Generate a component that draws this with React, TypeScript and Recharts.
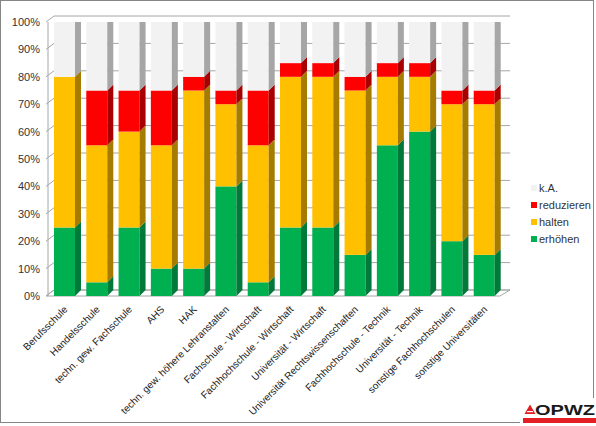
import React from "react"
import { BarChart, Bar, XAxis, YAxis, CartesianGrid } from "recharts"

// Schultypen (x-Achse)
const categories = [
  "Berufsschule",
  "Handelsschule",
  "techn. gew. Fachschule",
  "AHS",
  "HAK",
  "techn. gew. höhere Lehranstalten",
  "Fachschule - Wirtschaft",
  "Fachhochschule - Wirtschaft",
  "Universität - Wirtschaft",
  "Universität Rechtswissenschaften",
  "Fachhochschule - Technik",
  "Universität - Technik",
  "sonstige Fachhochschulen",
  "sonstige Universitäten",
]

// Anteile in %
const erhoehen   = [25, 5, 25, 10, 10, 40, 5, 25, 25, 15, 55, 60, 20, 15]
const halten     = [55, 50, 35, 45, 65, 30, 50, 55, 55, 60, 25, 20, 50, 55]
const reduzieren = [0, 20, 15, 20, 5, 5, 20, 5, 5, 5, 5, 5, 5, 5]
const keineAngabe = [20, 25, 25, 25, 20, 25, 25, 15, 15, 20, 15, 15, 25, 25]

const yTicks = [0, 10, 20, 30, 40, 50, 60, 70, 80, 90, 100]

const SERIES = [
  { key: "erhoehen",   label: "erhöhen",    front: "#00b050", side: "#00793a", top: "#009a45" },
  { key: "halten",     label: "halten",     front: "#ffc000", side: "#a67c00", top: "#d9a300" },
  { key: "reduzieren", label: "reduzieren", front: "#ff0000", side: "#a80000", top: "#d00000" },
  { key: "ka",         label: "k.A.",       front: "#f2f2f2", side: "#a6a6a6", top: "#d0d0d0" },
]

const data = categories.map((name, i) => ({
  name,
  erhoehen: erhoehen[i],
  halten: halten[i],
  reduzieren: reduzieren[i],
  ka: keineAngabe[i],
}))

const D = 6 // Tiefe der 3D-Darstellung
const GRID = "#a6a6a6"
const FONT = "'Liberation Sans', Arial, sans-serif"

function makeShape(s: (typeof SERIES)[number], isTop: boolean) {
  return (p: any) => {
    const { x, y, width, height } = p
    if (!height || height <= 0) return <g />
    return (
      <g>
        <rect x={x} y={y} width={width} height={height} fill={s.front} />
        <polygon
          points={`${x + width},${y + height} ${x + width},${y} ${x + width + D},${y - D} ${x + width + D},${y + height - D}`}
          fill={s.side}
        />
        {isTop && (
          <polygon
            points={`${x},${y} ${x + width},${y} ${x + width + D},${y - D} ${x + D},${y - D}`}
            fill={s.top}
          />
        )}
      </g>
    )
  }
}

function gridLine(p: any) {
  const { x1, x2, y1, index } = p
  return (
    <g key={p.key}>
      {index === 0 && (
        <polygon
          points={`${x1 - 2},${y1} ${x2},${y1} ${x2 + D + 4},${y1 - D} ${x1 + D},${y1 - D}`}
          fill="#ffffff"
          stroke={GRID}
          strokeWidth={1}
        />
      )}
      <line x1={x1 - 2} y1={y1} x2={x1 + D} y2={y1 - D} stroke={GRID} />
      <line x1={x1 + D} y1={y1 - D} x2={x2 + D + 4} y2={y1 - D} stroke={GRID} />
    </g>
  )
}

function XTick(p: any) {
  const { x, payload } = p
  const tx = x - 1
  const ty = 305
  return (
    <text
      x={tx}
      y={ty}
      transform={`rotate(-45, ${tx}, ${ty})`}
      textAnchor="end"
      dy="0.72em"
      fontSize={10}
      fill="#222"
      fontFamily={FONT}
    >
      {payload.value}
    </text>
  )
}

function OpwzLogo() {
  return (
    <svg width={596} height={426} style={{ position: "absolute", left: 0, top: 0, pointerEvents: "none" }}>
      <rect x={0.5} y={0.5} width={593} height={422} fill="none" stroke="#868686" />
      <rect x={520} y={398} width={76} height={28} fill="#ffffff" />
      <polygon points="524.5,414 535.5,414 530,404.5" fill="#e31e24" />
      <line x1={527} y1={411.6} x2={533} y2={411.6} stroke="#ffffff" strokeWidth={1.2} />
      <text
        x={535}
        y={414.5}
        fontSize={15}
        fontWeight="bold"
        fill="#1a1a1a"
        fontFamily={FONT}
        textLength={60}
        lengthAdjust="spacingAndGlyphs"
      >
        OPWZ
      </text>
      <rect x={523} y={418} width={73} height={5} fill="#e31e24" />
    </svg>
  )
}

function LegendBox() {
  const items = [...SERIES].reverse()
  return (
    <div style={{ position: "absolute", left: 531, top: 179, fontFamily: FONT, fontSize: 11, color: "#333" }}>
      {items.map((s) => (
        <div key={s.key} style={{ display: "flex", alignItems: "center", height: 17 }}>
          <span style={{ width: 6, height: 6, background: s.front, marginRight: 2, display: "inline-block" }} />
          {s.label}
        </div>
      ))}
    </div>
  )
}

export default function App() {
  return (
    <div style={{ position: "absolute", left: 0, top: 0, width: 596, height: 426, background: "#fff", overflow: "hidden" }}>
      <BarChart
        width={596}
        height={426}
        data={data}
        margin={{ top: 22, right: 96, left: 0, bottom: 0 }}
        barSize={21}
      >
        <CartesianGrid vertical={false} horizontal={gridLine} />
        <XAxis
          dataKey="name"
          interval={0}
          height={130}
          axisLine={false}
          tickLine={false}
          tick={<XTick />}
        />
        <YAxis
          width={48}
          domain={[0, 100]}
          ticks={yTicks}
          tickFormatter={(v) => `${v}%`}
          axisLine={{ stroke: GRID }}
          tickLine={false}
          tick={{ fontSize: 11, fill: "#333", fontFamily: FONT }}
          allowDataOverflow
        />
        {SERIES.map((s, i) => (
          <Bar
            key={s.key}
            dataKey={s.key}
            stackId="a"
            isAnimationActive={false}
            shape={makeShape(s, i === SERIES.length - 1)}
          />
        ))}
      </BarChart>
      <LegendBox />
      <OpwzLogo />
    </div>
  )
}
